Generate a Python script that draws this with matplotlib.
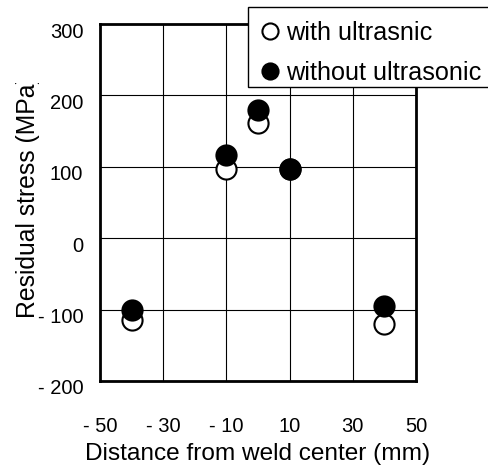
import matplotlib
matplotlib.use("Agg")
import matplotlib.pyplot as plt
import matplotlib.transforms as mtransforms
from matplotlib.patches import Rectangle

# Residual stress vs distance from weld center
distance = [-40, -10, 0, 10, 40]
with_ultrasonic = [-115, 97, 161, 97, -120]
without_ultrasonic = [-100, 116, 180, 97, -95]

x_ticks = [-50, -30, -10, 10, 30, 50]
x_tick_labels = ["- 50", "- 30", "- 10", "10", "30", "50"]
y_ticks = [300, 200, 100, 0, -100, -200]
y_tick_labels = ["300", "200", "100", "0", "- 100", "- 200"]

plt.rcParams["font.family"] = ["Liberation Sans", "DejaVu Sans"]

W, H = 489, 472
fig = plt.figure(figsize=(W / 100, H / 100), dpi=100)
ax = fig.add_axes([100 / W, 1 - 381 / H, 316 / W, 357 / H])

ax.plot(distance, with_ultrasonic, "o", ms=14.5, mfc="white", mec="black",
        mew=1.5, label="with ultrasnic", zorder=3, clip_on=False)
ax.plot(distance, without_ultrasonic, "o", ms=14.5, mfc="black", mec="black",
        mew=1.5, label="without ultrasonic", zorder=4, clip_on=False)

ax.set_xlim(-50, 50)
ax.set_ylim(-200, 300)
ax.set_xticks(x_ticks)
ax.set_xticklabels(x_tick_labels, fontsize=14.5)
ax.set_yticks(y_ticks)
ax.set_yticklabels(y_tick_labels, fontsize=14.5)
ax.tick_params(length=0)
ax.tick_params(axis="x", pad=26)
ax.tick_params(axis="y", pad=12)
ax.grid(True, color="black", linewidth=0.8)
ax.set_axisbelow(True)
for sp in ax.spines.values():
    sp.set_linewidth(2)

# y tick labels sit a little below their grid lines
shift = mtransforms.ScaledTranslation(0, -6 / 100, fig.dpi_scale_trans)
for lbl in ax.get_yticklabels():
    lbl.set_transform(lbl.get_transform() + shift)

ax.set_xlabel("Distance from weld center (mm)", fontsize=17.6, labelpad=5)

# y label is cut off at the top, as in the original
ylab = fig.text(35 / W, 1 - 318 / H, "Residual stress (MPa)", fontsize=17.8,
                rotation=90, rotation_mode="anchor", ha="left", va="baseline")
ylab.set_clip_on(True)
ylab.set_clip_box(mtransforms.Bbox.from_extents(0, 0, W, H - 83))

# legend box runs off the right edge of the picture
box = Rectangle((248 / W, 1 - 87 / H), 260 / W, 80 / H, transform=fig.transFigure,
                facecolor="white", edgecolor="black", linewidth=1, zorder=2,
                clip_on=False)
fig.add_artist(box)
handles, labels = ax.get_legend_handles_labels()
leg = fig.legend(handles, labels, loc="upper left",
                 bbox_to_anchor=(261 / W, 1 - 21 / H), fontsize=18.2,
                 markerscale=0.8, frameon=False, handlelength=0.7,
                 handletextpad=0.3, borderaxespad=0, borderpad=0,
                 labelspacing=0.62)
leg.set_zorder(5)

fig.savefig("out.png", dpi=100)
